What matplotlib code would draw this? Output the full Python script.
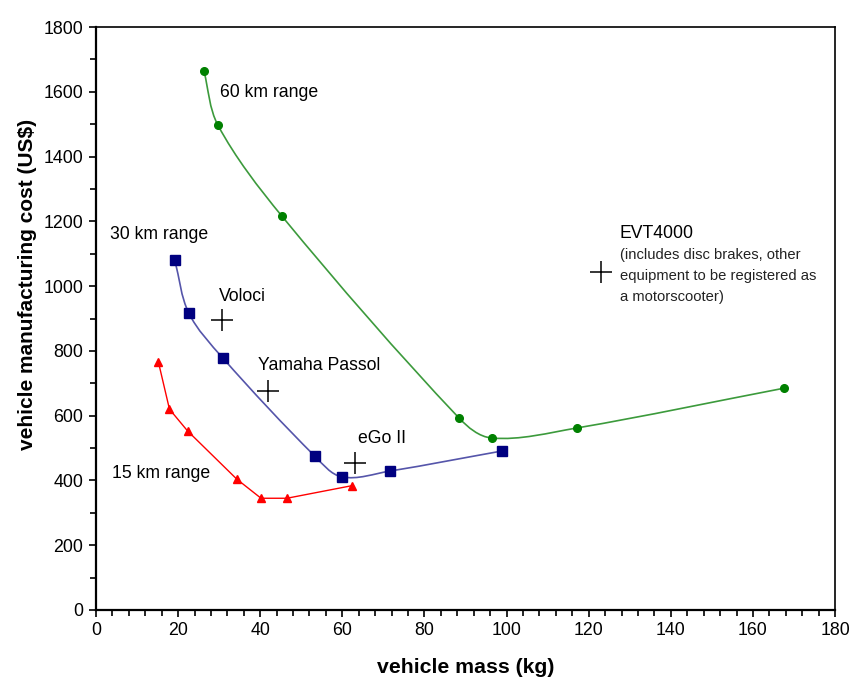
import numpy as np
import matplotlib.pyplot as plt
from matplotlib.path import Path
from matplotlib.patches import PathPatch
from matplotlib.ticker import MultipleLocator

plt.rcParams["font.family"] = ["Liberation Sans", "DejaVu Sans"]

# vehicle mass (kg) / manufacturing cost (US$) per design range
mass_60km = [26.3, 29.7, 45.3, 88.4, 96.4, 117.1, 167.6]
cost_60km = [1664, 1497, 1216, 593, 531, 562, 685]

mass_30km = [19.2, 22.6, 30.9, 53.3, 59.9, 71.6, 98.9]
cost_30km = [1080, 917, 778, 475, 411, 429, 491]

mass_15km = [15.2, 17.9, 22.3, 34.3, 40.2, 46.5, 62.4]
cost_15km = [766, 620, 553, 404, 345, 345, 384]

# existing vehicles
vehicle_names = ["Voloci", "Yamaha Passol", "eGo II", "EVT4000"]
vehicle_mass = [30.7, 42.0, 63.2, 122.9]
vehicle_cost = [895, 677, 453, 1044]
evt_note = ["(includes disc brakes, other",
            "equipment to be registered as",
            "a motorscooter)"]


def smooth_path(ax, xs, ys):
    """Smoothed line through the points, built from cubic Bezier segments
    in screen space so the bends look the same as on paper."""
    pts = ax.transData.transform(np.column_stack([xs, ys]).astype(float))
    n = len(pts)

    def tangent(i):
        a = pts[max(i - 1, 0)]
        b = pts[min(i + 1, n - 1)]
        d = b - a
        return d / np.hypot(*d)

    verts = [pts[0]]
    codes = [Path.MOVETO]
    for i in range(n - 1):
        p1, p2 = pts[i], pts[i + 1]
        seg = np.hypot(*(p2 - p1)) / 3
        verts += [p1 + tangent(i) * seg, p2 - tangent(i + 1) * seg, p2]
        codes += [Path.CURVE4] * 3
    verts = ax.transData.inverted().transform(np.array(verts))
    return Path(verts, codes)


fig = plt.figure(figsize=(8.53, 6.77), dpi=100)
ax = fig.add_axes([0.1125, 0.099, 0.8665, 0.861])
ax.set_xlim(0, 180)
ax.set_ylim(0, 1800)

# 60 km range
ax.add_patch(PathPatch(smooth_path(ax, mass_60km, cost_60km), fill=False,
                       edgecolor="#3c9a3c", lw=1.2))
ax.plot(mass_60km, cost_60km, "o", color="#008000", ms=5.5, ls="none")

# 30 km range
ax.add_patch(PathPatch(smooth_path(ax, mass_30km, cost_30km), fill=False,
                       edgecolor="#5555aa", lw=1.2))
ax.plot(mass_30km, cost_30km, "s", color="#000080", ms=7, ls="none")

# 15 km range
ax.plot(mass_15km, cost_15km, "-^", color="#ff0000", lw=1.0, ms=6,
        markerfacecolor="#ff0000")

ax.plot(vehicle_mass, vehicle_cost, "+", color="black", ms=16, mew=1.1,
        ls="none")

fs = 12.7
ax.text(30.2, 1599, "60 km range", fontsize=fs, va="center")
ax.text(3.4, 1161, "30 km range", fontsize=fs, va="center")
ax.text(3.9, 420, "15 km range", fontsize=fs, va="center")
ax.text(30.0, 969, vehicle_names[0], fontsize=fs, va="center")
ax.text(39.5, 756, vehicle_names[1], fontsize=fs, va="center")
ax.text(63.8, 531, vehicle_names[2], fontsize=fs, va="center")
ax.text(127.6, 1164, vehicle_names[3], fontsize=fs, va="center")
for line, y in zip(evt_note, [1096, 1031, 966]):
    ax.text(127.6, y, line, fontsize=10.6, va="center", color="#222222")

ax.xaxis.set_major_locator(MultipleLocator(20))
ax.xaxis.set_minor_locator(MultipleLocator(4))
ax.yaxis.set_major_locator(MultipleLocator(200))
ax.yaxis.set_minor_locator(MultipleLocator(100))
ax.tick_params(which="major", direction="out", length=5, width=1.2,
               labelsize=12.8, pad=4)
ax.tick_params(which="minor", direction="out", length=4, width=1.2)
for side in ["left", "bottom"]:
    ax.spines[side].set_linewidth(1.6)
for side in ["top", "right"]:
    ax.spines[side].set_linewidth(1.2)

ax.set_xlabel("vehicle mass (kg)", fontsize=15.3, fontweight="bold")
ax.set_ylabel("vehicle manufacturing cost (US$)", fontsize=15,
              fontweight="bold")
ax.xaxis.set_label_coords(0.5, -0.082)
ax.yaxis.set_label_coords(-0.08, 0.559)

fig.savefig("out.png", dpi=100)
